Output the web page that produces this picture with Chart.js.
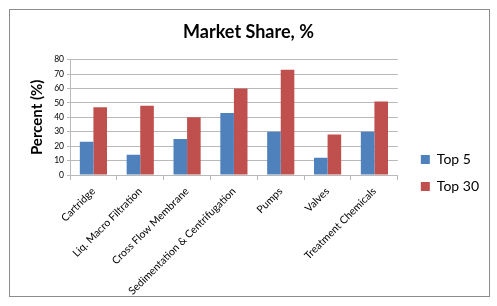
<!DOCTYPE html>
<html lang="en">

<head>
  <meta charset="UTF-8">
  <title>Market Share</title>
  <style>
    body {
      margin: 0;
      background-color: #ffffff;
    }

    #wrap {
      position: relative;
      width: 497px;
      height: 306px;
    }

    #frame {
      position: absolute;
      left: 9px;
      top: 9px;
      width: 479px;
      height: 286px;
      border: 1px solid #8c8c8c;
      pointer-events: none;
    }
  </style>
</head>

<body>
  <div id="wrap">
    <canvas id="myChart" width="497" height="306"></canvas>
    <div id="frame"></div>
  </div>
  <script src="https://cdn.jsdelivr.net/npm/chart.js@4.4.0/dist/chart.umd.min.js"></script>
  <script>
    // data
    const categories = ['Cartridge', 'Liq. Macro Filtration', 'Cross Flow Membrane',
      'Sedimentation & Centrifugation', 'Pumps', 'Valves', 'Treatment Chemicals']
    const top5 = [23, 14, 25, 43, 30, 12, 30]
    const top30 = [47, 48, 40, 60, 73, 28, 51]
    const yTicks = [0, 10, 20, 30, 40, 50, 60, 70, 80]

    const font = "Lato, 'Liberation Sans', sans-serif"
    const gridColor = '#b9b9b9'

    // nudge the legend and title boxes to where excel put them
    const boxShift = {
      id: 'boxShift',
      afterLayout(chart) {
        const lg = chart.legend
        lg.left += 10
        lg.right += 10
        lg.top += 20
        lg.bottom += 20
        const tb = chart.titleBlock
        tb.left += 4
        tb.right += 4
      }
    }

    const ctx = document.getElementById('myChart').getContext('2d')
    const myChart = new Chart(ctx, {
      type: 'bar',
      data: {
        labels: categories,
        datasets: [{
          label: 'Top 5',
          data: top5,
          backgroundColor: '#4f81bd',
          categoryPercentage: 0.58,
          barPercentage: 1
        },
        {
          label: 'Top 30',
          data: top30,
          backgroundColor: '#c0504d',
          categoryPercentage: 0.58,
          barPercentage: 1
        }]
      },
      plugins: [boxShift],
      options: {
        responsive: false,
        animation: false,
        layout: {
          padding: { left: 10, right: 18, top: 10, bottom: 10 }
        },
        plugins: {
          title: {
            display: true,
            text: 'Market Share, %',
            color: '#000',
            font: { family: font, size: 18, weight: 'bold' },
            padding: { top: 11, bottom: 17 }
          },
          legend: {
            position: 'right',
            labels: {
              color: '#000',
              font: { family: font, size: 14 },
              boxWidth: 9,
              boxHeight: 9,
              padding: 13
            }
          },
          tooltip: { enabled: false }
        },
        scales: {
          x: {
            grid: {
              display: true,
              drawOnChartArea: false,
              offset: true,
              color: gridColor,
              tickLength: 5
            },
            border: { color: gridColor },
            ticks: {
              color: '#000',
              font: { family: font, size: 10.5 },
              minRotation: 45,
              maxRotation: 45,
              padding: 5
            },
            afterFit: (scale) => { scale.height = 121 }
          },
          y: {
            min: 0,
            max: 80,
            afterBuildTicks: (scale) => { scale.ticks = yTicks.map(v => ({ value: v })) },
            grid: {
              color: gridColor,
              tickLength: 3
            },
            border: { color: gridColor },
            ticks: {
              color: '#000',
              font: { family: font, size: 8.5 },
              padding: 3
            },
            title: {
              display: true,
              text: 'Percent (%)',
              color: '#000',
              font: { family: font, size: 15, weight: 'bold' },
              padding: { top: 18, bottom: 0 }
            },
            afterFit: (scale) => { scale.width = 60 }
          }
        }
      }
    })
  </script>
</body>

</html>
